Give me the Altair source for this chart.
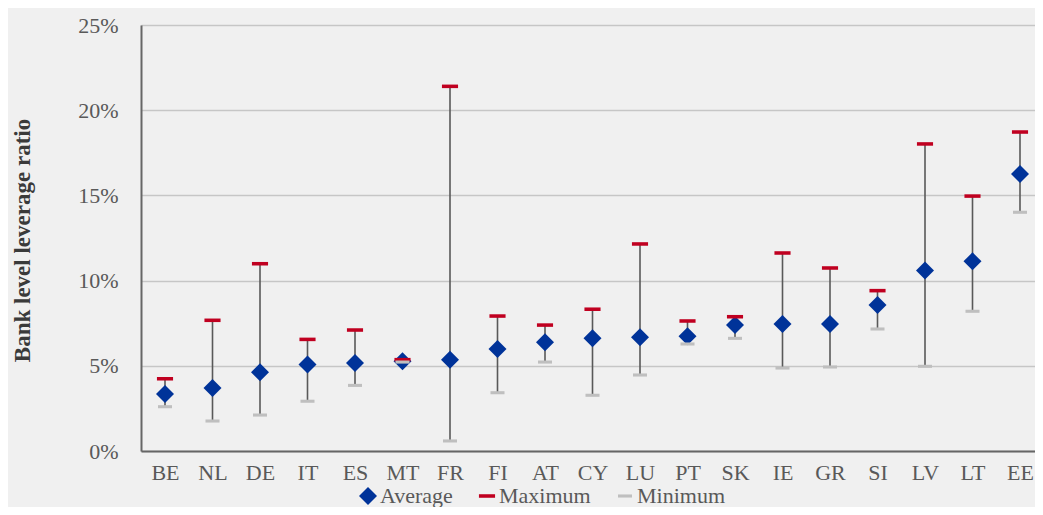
import altair as alt
import pandas as pd

countries = ["BE", "NL", "DE", "IT", "ES", "MT", "FR", "FI", "AT", "CY",
             "LU", "PT", "SK", "IE", "GR", "SI", "LV", "LT", "EE"]
avg_pct = [3.35, 3.70, 4.62, 5.07, 5.16, 5.26, 5.36, 5.99, 6.38, 6.61,
           6.67, 6.73, 7.39, 7.45, 7.45, 8.57, 10.60, 11.13, 16.26]
max_pct = [4.24, 7.67, 10.99, 6.55, 7.10, 5.36, 21.40, 7.92, 7.39, 8.32,
           12.15, 7.63, 7.88, 11.62, 10.74, 9.41, 18.02, 14.96, 18.72]
min_pct = [2.60, 1.76, 2.11, 2.92, 3.85, 5.22, 0.59, 3.42, 5.22, 3.27,
           4.46, 6.28, 6.61, 4.87, 4.93, 7.16, 4.97, 8.20, 14.01]
series_names = ["Average", "Maximum", "Minimum"]
y_ticks = [0, 0.05, 0.10, 0.15, 0.20, 0.25]

wide = pd.DataFrame({
    "country": countries,
    "lo": [v / 100 for v in min_pct],
    "hi": [v / 100 for v in max_pct],
})

rows = []
for k, (name, vals) in enumerate(zip(series_names, [avg_pct, max_pct, min_pct])):
    for c, v in zip(countries, vals):
        rows.append({"country": c, "series": name, "value": v / 100, "ord": k})
long = pd.DataFrame(rows)

TICK = "M-1,-0.22H1V0.22H-1Z"
SERIF = "Liberation Serif"

x_enc = alt.X(
    "country:N", sort=countries,
    scale=alt.Scale(type="point", padding=0.4105, align=0.6154),
    axis=alt.Axis(title=None, labelAngle=0, ticks=False, tickSize=0, labelPadding=11,
                  labelFont=SERIF, labelFontSize=22, labelColor="#595959",
                  domainColor="#666666", domainWidth=2, grid=False),
)

y_axis = alt.Axis(
    title="Bank level leverage ratio", values=y_ticks, format=".0%",
    ticks=False, tickSize=0, labelPadding=23,
    labelFont=SERIF, labelFontSize=22, labelColor="#595959",
    domainColor="#666666", domainWidth=2,
    grid=True, gridColor="#c6c6c6", gridWidth=1.5,
    titleFont=SERIF, titleFontSize=23, titleFontWeight="bold", titleColor="#3a3a3a",
    titleX=-119, titleY=215, titleAngle=270, titleAlign="center", titleBaseline="middle",
)
y_scale = alt.Scale(domain=[0, 0.25], nice=False)

rule = alt.Chart(wide).mark_rule(color="#595959", strokeWidth=1.6).encode(
    x=x_enc,
    y=alt.Y("lo:Q", scale=y_scale, axis=y_axis),
    y2="hi:Q",
)

legend = alt.Legend(
    title=None, orient="none", legendX=216, legendY=460, direction="horizontal",
    symbolSize=169, symbolStrokeWidth=0, labelFont=SERIF, labelFontSize=22,
    labelColor="#595959", labelOffset=1, columnPadding=23, padding=0,
)

points = alt.Chart(long).mark_point(filled=True, opacity=1, strokeWidth=0).encode(
    x=x_enc,
    y=alt.Y("value:Q", scale=y_scale, axis=y_axis),
    color=alt.Color("series:N", scale=alt.Scale(domain=series_names,
                    range=["#003399", "#C00020", "#BFBFBF"]), legend=legend),
    shape=alt.Shape("series:N", scale=alt.Scale(domain=series_names,
                    range=["diamond", TICK, TICK]), legend=legend),
    size=alt.Size("series:N", scale=alt.Scale(domain=series_names,
                  range=[324, 196, 196]), legend=None),
    order=alt.Order("ord:Q"),
)

chart = (rule + points).properties(
    width=894, height=426,
    autosize=alt.AutoSizeParams(type="none"),
    padding={"left": 133, "top": 17, "right": 0, "bottom": 56},
    background="#f0f0f0",
).configure_view(strokeWidth=0).configure(font=SERIF)

chart.save("out.html", embed_options={"renderer": "svg", "actions": False})
